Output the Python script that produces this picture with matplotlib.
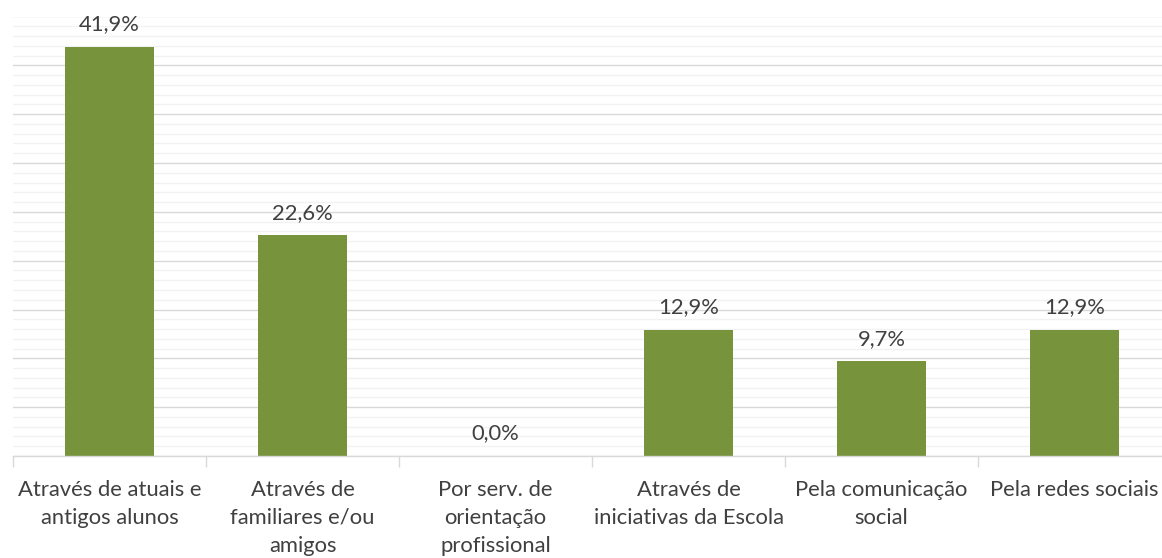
import matplotlib
matplotlib.use("Agg")
import matplotlib.pyplot as plt
from matplotlib.ticker import MultipleLocator, FixedLocator
import numpy as np

categories = ["Através de atuais e\nantigos alunos",
              "Através de\nfamiliares e/ou\namigos",
              "Por serv. de\norientação\nprofissional",
              "Através de\niniciativas da Escola",
              "Pela comunicação\nsocial",
              "Pela redes sociais"]
values = [41.9, 22.6, 0.0, 12.9, 9.7, 12.9]
labels = ["41,9%", "22,6%", "0,0%", "12,9%", "9,7%", "12,9%"]

plt.rcParams['font.family'] = ['Lato', 'DejaVu Sans']

W, H = 1162, 558
fig = plt.figure(figsize=(W/100, H/100), dpi=100)
left, right, bottom, top = 13, 1171, 456, 16.5
ax = fig.add_axes([left/W, 1 - bottom/H, (right-left)/W, (bottom-top)/H])

x = np.arange(len(categories))
ax.bar(x, values, width=0.46, color="#77933C", zorder=3)
ax.set_xlim(-0.5, len(categories) - 0.5)
ax.set_ylim(0, 45)

ax.yaxis.set_major_locator(MultipleLocator(5))
ax.yaxis.set_minor_locator(MultipleLocator(1))
ax.grid(axis='y', which='minor', color="#F2F2F2", linewidth=1.0, zorder=0)
ax.grid(axis='y', which='major', color="#D9D9D9", linewidth=1.0, zorder=1)
ax.tick_params(axis='y', which='both', left=False, labelleft=False)

for s in ['top', 'right', 'left']:
    ax.spines[s].set_visible(False)
ax.spines['bottom'].set_color("#D9D9D9")
ax.spines['bottom'].set_linewidth(1.0)
ax.spines['bottom'].set_zorder(4)

ax.set_xticks(x)
ax.set_xticklabels(categories, fontsize=15.8, color="#404040", linespacing=1.52)
ax.tick_params(axis='x', which='major', length=0, pad=17)
ax.xaxis.set_minor_locator(FixedLocator(np.arange(-0.5, len(categories), 1.0)))
ax.tick_params(axis='x', which='minor', length=8, color="#D9D9D9", width=1)

for xi, v, lab in zip(x, values, labels):
    ax.annotate(lab, (xi, v), xytext=(0, 9), textcoords='offset points',
                ha='center', va='bottom', fontsize=15.8, color="#404040")

fig.savefig("out.png", dpi=100)
